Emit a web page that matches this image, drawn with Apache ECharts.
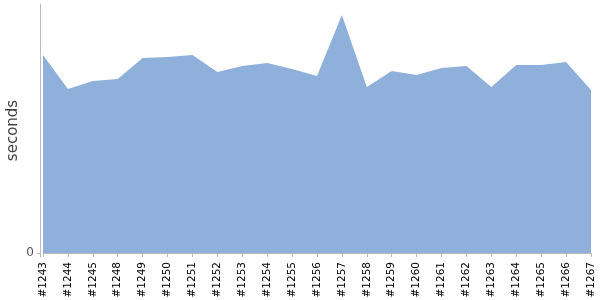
<!DOCTYPE html>
<html><head><meta charset="utf-8">
<script src="https://cdn.jsdelivr.net/npm/echarts@6/dist/echarts.min.js"></script>
<style>html,body{margin:0;padding:0;background:#fff}#c{width:600px;height:300px}</style>
</head><body><div id="c"></div>
<script>
const builds = ['#1243','#1244','#1245','#1248','#1249','#1250','#1251','#1252','#1253','#1254','#1255','#1256','#1257','#1258','#1259','#1260','#1261','#1262','#1263','#1264','#1265','#1266','#1267'];
const seconds = [198,164,172,174,195,196,198,181,187,190,184,177,238,166,182,178,185,187,166,188,188,191,163];
const yTicks = [0];

const chart = echarts.init(document.getElementById('c'), null, {renderer:'canvas'});
chart.setOption({
  animation:false,
  grid:{left:43,right:9,top:4,bottom:43,containLabel:false,outerBoundsMode:'none'},
  xAxis:{
    type:'category', data:builds, boundaryGap:false,
    axisLine:{lineStyle:{color:'#bbb'}},
    axisTick:{alignWithLabel:true,length:4,lineStyle:{color:'#bbb'}},
    axisLabel:{rotate:90,interval:0,color:'#000',fontFamily:'DejaVu Sans',fontSize:10.5,margin:5}
  },
  yAxis:{
    type:'value', min:-4, max:249, offset:3,
    name:'seconds', nameLocation:'middle', nameGap:19, nameMoveOverlap:false,
    nameTextStyle:{fontFamily:'DejaVu Sans',fontSize:15,color:'#444'},
    axisLine:{show:true,lineStyle:{color:'#bbb'}},
    axisTick:{show:true,length:3,customValues:yTicks,lineStyle:{color:'#bbb'}},
    axisLabel:{customValues:yTicks,color:'#555',fontFamily:'DejaVu Sans',fontSize:12,margin:6},
    splitLine:{show:false}
  },
  series:[{
    type:'line', data:seconds, symbol:'none',
    lineStyle:{width:0,color:'#8EB0DA'},
    areaStyle:{color:'#8EB0DA',opacity:1,origin:0}
  }]
});
</script></body></html>
